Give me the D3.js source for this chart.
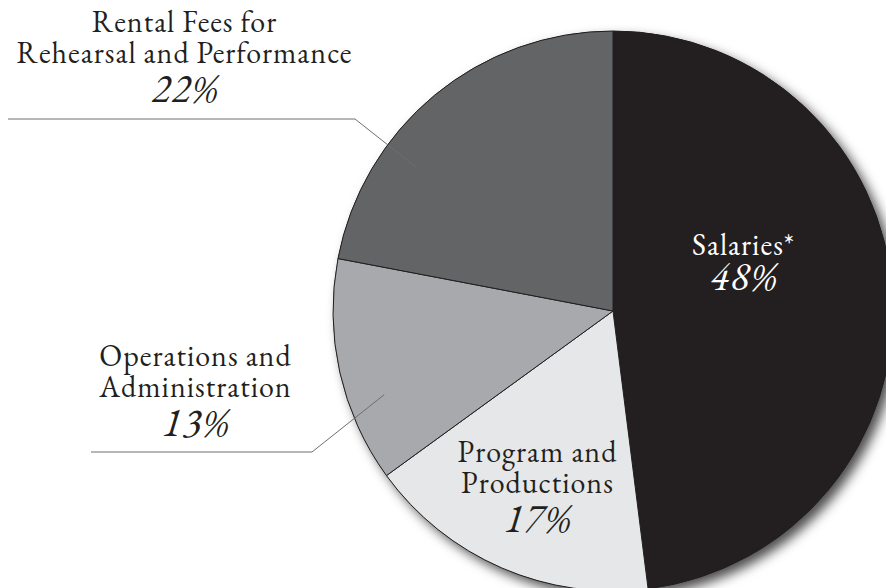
<!DOCTYPE html>
<html>
<head>
<meta charset="utf-8">
<script src="https://cdn.jsdelivr.net/npm/d3@7/dist/d3.min.js"></script>
</head>
<body style="margin:0;background:#fff">
<svg id="chart" width="886" height="588" style="display:block"></svg>
<script>
// Data
const categories = ["Salaries*", "Program and Productions", "Operations and Administration", "Rental Fees for Rehearsal and Performance"];
const values = [48, 17, 13, 22];
const labelLines = [["Salaries*"], ["Program and", "Productions"], ["Operations and", "Administration"], ["Rental Fees for", "Rehearsal and Performance"]];
const pctLabels = ["48%", "17%", "13%", "22%"];
const colors = ["#231f20", "#e6e7e8", "#a7a9ac", "#636466"];

const FONT = "'EB Garamond', 'Liberation Serif', serif";
const cx = 613, cy = 311, R = 280;

const svg = d3.select("#chart");
const defs = svg.append("defs");
const f = defs.append("filter").attr("id", "shadow")
  .attr("x", "-20%").attr("y", "-20%").attr("width", "140%").attr("height", "140%");
f.append("feDropShadow").attr("dx", 6).attr("dy", 6).attr("stdDeviation", 6)
  .attr("flood-color", "#000").attr("flood-opacity", 0.7);

const pie = d3.pie().sort(null).value(d => d)(values);
const arc = d3.arc().innerRadius(0).outerRadius(R);

const g = svg.append("g").attr("transform", `translate(${cx},${cy})`);
g.append("circle").attr("r", R).attr("fill", "#231f20").attr("filter", "url(#shadow)");
g.selectAll("path.slice").data(pie).join("path")
  .attr("class", "slice")
  .attr("d", arc)
  .attr("fill", (d, i) => colors[i])
  .attr("stroke", "#231f20")
  .attr("stroke-width", 1);

// Leader lines: horizontal rule under label, then diagonal into slice
const leaders = [
  null, null,
  { i: 2, x0: 91, x1: 312, y: 452, t: 0.34, rr: 0.87 },
  { i: 3, x0: 8, x1: 355, y: 119, t: 0.32, rr: 0.87 }
];
leaders.forEach(L => {
  if (!L) return;
  const s = pie[L.i];
  const a = s.startAngle + (s.endAngle - s.startAngle) * L.t;
  const p = d3.pointRadial(a, R * L.rr);
  svg.append("path")
    .attr("d", d3.line()([[L.x0, L.y], [L.x1, L.y], [cx + p[0], cy + p[1]]]))
    .attr("fill", "none")
    .attr("stroke", "#6d6e71")
    .attr("stroke-width", 1);
});

const labelPos = [
  { x: 743, y: 255, gap: 35, color: "#fff" },
  { x: 537, y: 462, gap: 39, color: "#231f20" },
  { x: 195, y: 366, gap: 39, color: "#231f20" },
  { x: 184, y: 32, gap: 39, color: "#231f20" }
];
const lineH = 31;
labelLines.forEach((lines, i) => {
  const p = labelPos[i];
  const t = svg.append("text")
    .attr("x", p.x).attr("y", p.y)
    .attr("text-anchor", "middle")
    .attr("font-family", FONT)
    .attr("fill", p.color);
  lines.forEach((ln, j) => {
    t.append("tspan")
      .attr("x", p.x + 0.5).attr("y", p.y + j * lineH)
      .attr("font-size", 30)
      .attr("letter-spacing", 1)
      .text(ln);
  });
  t.append("tspan")
    .attr("x", p.x + 1).attr("y", p.y + (lines.length - 1) * lineH + p.gap)
    .attr("font-size", 40)
    .attr("font-style", "italic")
    .attr("letter-spacing", 1)
    .text(pctLabels[i]);
});
</script>
</body>
</html>
